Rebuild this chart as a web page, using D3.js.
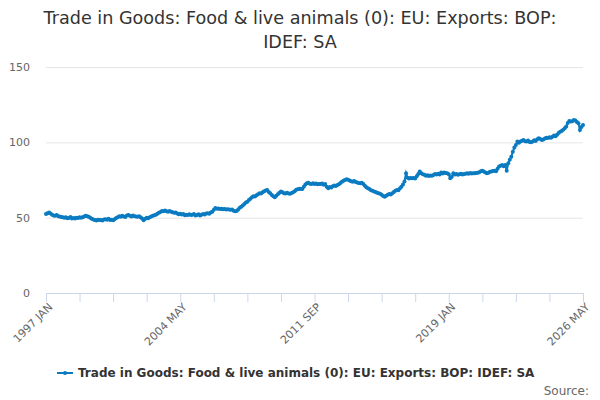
<!DOCTYPE html>
<html><head><meta charset="utf-8">
<script src="https://cdn.jsdelivr.net/npm/d3@7"></script>
<style>body{margin:0;background:#fff;font-family:"DejaVu Sans",sans-serif}</style>
</head><body><svg id="c" width="600" height="400"></svg>
<script>
const startYear = 1997;
const monthNames = ["JAN","FEB","MAR","APR","MAY","JUN","JUL","AUG","SEP","OCT","NOV","DEC"];
const titleLines = ["Trade in Goods: Food & live animals (0): EU: Exports: BOP:", "IDEF: SA"];
const seriesName = "Trade in Goods: Food & live animals (0): EU: Exports: BOP: IDEF: SA";
const yTicks = [0, 50, 100, 150];
const values = [
 52.5,53,53.5,52.8,52,51.5,51.3,51.8,51,50.8,50.5,50.3,
 50,50.2,49.6,49.8,50.4,49.5,49.7,49.4,50,49.8,50.2,49.9,
 50.3,50.8,51.3,51,50.6,50,49.2,48.8,48.5,48.2,48.7,48.4,
 48.5,48.2,48.8,49,48.6,49.2,48.4,48.6,48.3,49,49.8,50.3,
 51,50.6,51.2,50.8,50.5,51.4,51.8,51.2,50.8,51.5,50.9,50.7,
 50.6,51,50.2,49.5,48.3,49.2,50,49.6,50.3,50.8,51.2,51.6,
 52,52.6,53.3,53.8,54.5,54.2,54.8,54.3,53.9,54.4,54,53.6,
 53.2,53.5,52.8,52.3,52.6,52.1,52.4,51.6,52,51.8,52.3,51.7,
 51.9,52.4,51.5,51.8,52.2,51.4,52,52.5,52.1,52.8,53,52.6,
 53.4,54,55.2,56.4,55.9,56.1,55.7,56,55.6,55.8,55.4,55.6,
 55.5,55.2,55.4,54.6,54.2,54.5,55.4,56.5,57.2,58,59,60,
 60.5,61.8,62.6,63.5,64.2,64,64.8,65.5,66.2,66,66.8,67.5,
 68,68.4,67,66.2,65,64.2,63.6,64.5,65.5,66.5,67.3,66.8,
 66.2,66,66.5,66,65.8,66.3,66.8,67.5,68.5,68.9,69.2,69,
 69,70.5,72,72.8,73.2,72.5,72.4,72.9,72.4,72.7,72.2,72.4,
 72.4,72.6,71.8,72.3,70.5,69.5,70.3,70,70.8,71.4,71,71.6,
 72.2,73,73.9,74.5,75,75.5,75.2,74.6,74.2,73.9,74.3,73.6,
 73.4,73,72.8,73.1,72.3,71.2,70.2,69.5,69,68.2,67.8,67.3,
 67,66.6,66.2,65.9,65.2,64.3,63.8,64.5,65.2,65.7,65.4,66.2,
 67,67.8,68.4,68.2,69.5,70.6,72,74,79.5,76.5,76,76.3,
 76.2,76.4,76,77.5,79,80.6,79.5,78.8,78.5,77.9,78.2,77.7,
 78,77.8,78.4,79,78.6,79.2,78.7,79.9,79.3,80,79.6,79.5,
 78.8,76.2,77.2,79.5,78.6,79,78.5,78.8,79.2,78.6,78.9,79.2,
 79.5,79.2,79.6,79.3,79.5,79.4,79.6,79.8,80.2,80.8,81.2,80.6,
 79.9,79.5,79.8,80.4,80.6,81,81.2,80.8,82.5,83.9,84.5,85,
 84.2,85,81.2,86.1,88.5,90.5,93.8,96.5,98.3,100.5,99.8,100.6,
 101,101.6,100.8,100.5,101.2,100.3,100,100.6,101.4,100.9,102,102.7,
 102.2,101.6,101.9,102.5,103,102.8,103.4,103.1,103.7,104.5,104.1,105,
 106.2,107.1,107.5,108.4,109.3,110.5,112.8,114.2,113.8,114,114.9,114.5,
 113.5,112.7,108.2,110.2,111.5
];
const color = "#0b7bc1";
const svg = d3.select("#c");
const mLeft = 46, mRight = 583, mTop = 67, mBottom = 293;
const x = d3.scaleLinear().domain([0, values.length - 1]).range([mLeft, mRight]);
const y = d3.scaleLinear().domain([0, 150]).range([mBottom, mTop]);
const label = i => (startYear + Math.floor(i / 12)) + " " + monthNames[i % 12];

// title
svg.append("text").attr("x", 300).attr("y", 24).attr("text-anchor", "middle")
  .attr("font-size", 17.6).attr("fill", "#333")
  .selectAll("tspan").data(titleLines).join("tspan")
  .attr("x", 300).attr("dy", (d, i) => i ? 24 : 0).text(d => d);

// grid + y labels
const ya = svg.append("g").attr("transform", `translate(${mLeft},0)`)
  .call(d3.axisLeft(y).tickValues(yTicks).tickSize(-(mRight - mLeft)).tickPadding(16));
ya.select(".domain").remove();
ya.selectAll(".tick line").attr("stroke", "#e6e6e6");
ya.selectAll(".tick text").attr("fill", "#666").attr("font-size", 11).attr("font-family", "DejaVu Sans");
ya.selectAll(".tick").filter(d => d === 0).select("line").remove();

// x axis
const tickIdx = d3.range(0, values.length, 22);
const xa = svg.append("g").attr("transform", `translate(0,${mBottom})`)
  .call(d3.axisBottom(x).tickValues(tickIdx).tickSize(9).tickSizeOuter(0)
    .tickFormat(i => i % 88 === 0 ? label(i) : ""));
xa.select(".domain").attr("stroke", "#ccd6eb");
xa.selectAll(".tick line").attr("stroke", "#ccd6eb");
xa.selectAll(".tick text").attr("fill", "#666").attr("font-size", 11).attr("font-family", "DejaVu Sans")
  .attr("text-anchor", "end").attr("transform", "translate(4,12) rotate(-45)").attr("dy", "0.35em").attr("y", 0);

// line
svg.append("path").datum(values).attr("fill", "none").attr("stroke", color).attr("stroke-width", 2)
  .attr("d", d3.line().x((d, i) => x(i)).y(d => y(d)));
svg.append("g").selectAll("circle").data(values).join("circle")
  .attr("cx", (d, i) => x(i)).attr("cy", d => y(d)).attr("r", 2).attr("fill", color);

// legend
const lg = svg.append("g").attr("transform", "translate(57,373)");
lg.append("line").attr("x1", 0).attr("x2", 16).attr("stroke", color).attr("stroke-width", 2);
lg.append("circle").attr("cx", 8).attr("r", 2).attr("fill", color);
lg.append("text").attr("x", 21).attr("y", 4).attr("font-size", 12).attr("font-weight", "bold").attr("fill", "#333").text(seriesName);

svg.append("text").attr("x", 589).attr("y", 395).attr("text-anchor", "end").attr("font-size", 12).attr("fill", "#666").text("Source:");
</script></body></html>
